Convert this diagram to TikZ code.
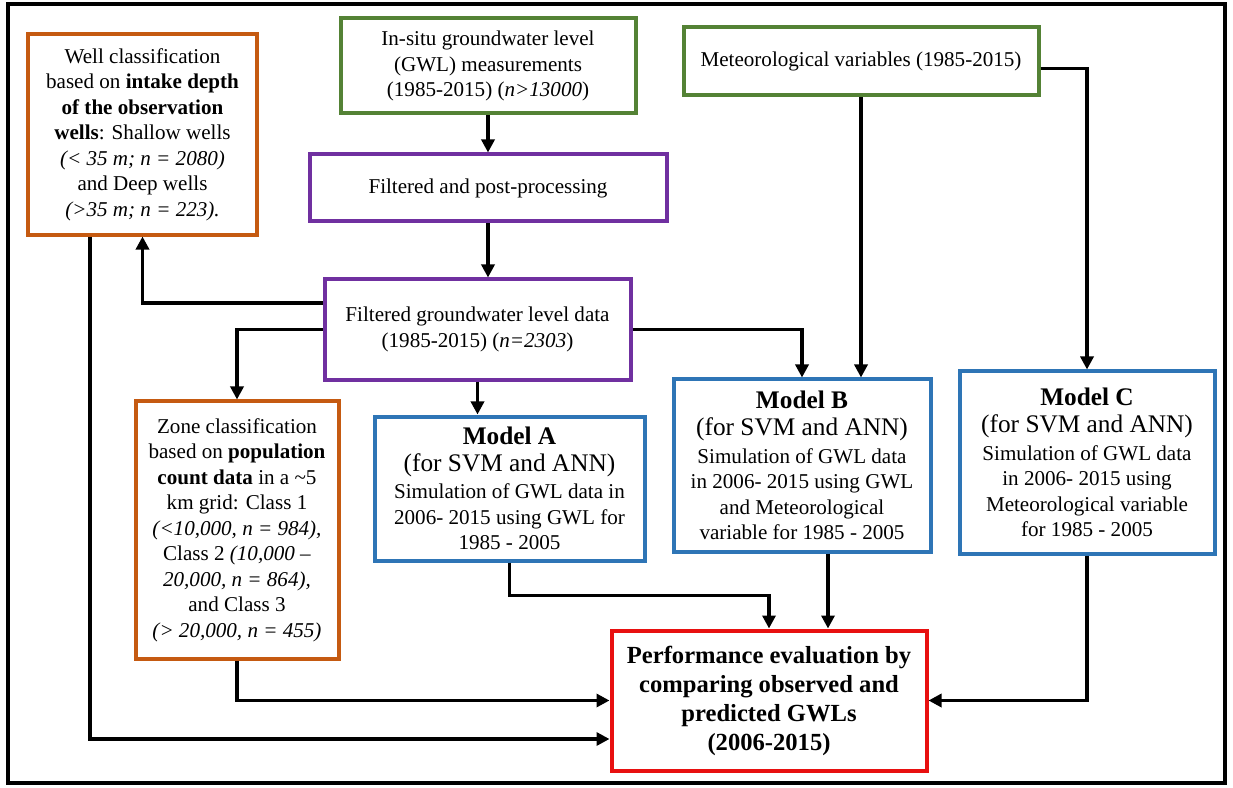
\documentclass[tikz,border=0pt,12pt]{standalone}
\usepackage{fontspec}
\setmainfont{Liberation Serif}
\usetikzlibrary{arrows.meta}
\definecolor{wellorange}{HTML}{C55A11}
\definecolor{srcgreen}{HTML}{548235}
\definecolor{procpurple}{HTML}{7030A0}
\definecolor{modelblue}{HTML}{2E75B6}
\definecolor{evalred}{HTML}{E81010}

\begin{document}
\begin{tikzpicture}[
  x=0.2mm, y=-0.2mm,
  >={Triangle[length=2.6mm, width=2.6mm]},
  fbox/.style={
    draw=#1, line width=0.8mm, fill=white, align=center,
    inner sep=2pt, font=\normalsize
  },
  arr/.style={->, line width=0.75mm, black},
]

% Frame
\useasboundingbox (0,0) rectangle (1233,788);
\draw[line width=0.8mm] (8,4) rectangle (1225,783);

% =============================================
% Inputs and pre-processing
% =============================================

\node[fbox=wellorange, minimum width=45.6mm, minimum height=40mm] (wellcls) at (142.5,134.5)
  {Well classification\\
   based on \textbf{intake depth}\\
   \textbf{of the observation}\\
   \textbf{wells}: Shallow wells\\
   \textit{(< 35 m; n = 2080)}\\
   and Deep wells\\
   \textit{(>35 m; n = 223).}};

\node[fbox=srcgreen, minimum width=59mm, minimum height=19mm] (insitu) at (488,66)
  {In-situ groundwater level\\
   (GWL) measurements\\
   (1985-2015) (\textit{n>13000})};

\node[fbox=procpurple, minimum width=71.4mm, minimum height=13.4mm] (postproc) at (488,188)
  {Filtered and post-processing};

\node[fbox=srcgreen, minimum width=71mm, minimum height=13.6mm] (meteo) at (861,61.5)
  {Meteorological variables (1985-2015)};

\node[fbox=procpurple, minimum width=61.2mm, minimum height=20mm] (filtgwl) at (477.5,329.5)
  {Filtered groundwater level data\\
   (1985-2015) (\textit{n=2303})};

\node[fbox=wellorange, minimum width=40.6mm, minimum height=51.4mm] (zonecls) at (237,530)
  {Zone classification\\
   based on \textbf{population}\\
   \textbf{count data} in a \textasciitilde 5\\
   km grid: Class 1\\
   \textit{(<10,000, n = 984),}\\
   Class 2 \textit{(10,000 --}\\
   \textit{20,000, n = 864),}\\
   and Class 3\\
   \textit{(> 20,000, n = 455)}};

% =============================================
% Models
% =============================================

\node[fbox=modelblue, minimum width=54mm, minimum height=28.8mm] (modelA) at (509.5,488.5)
  {{\large\bfseries Model A}\\[1pt]
   {\large (for SVM and ANN)}\\[1pt]
   Simulation of GWL data in\\
   2006- 2015 using GWL for\\
   1985 - 2005};

\node[fbox=modelblue, minimum width=51.4mm, minimum height=34.4mm] (modelB) at (802,465.5)
  {{\large\bfseries Model B}\\[1pt]
   {\large (for SVM and ANN)}\\[1pt]
   Simulation of GWL data\\
   in 2006- 2015 using GWL\\
   and Meteorological\\
   variable for 1985 - 2005};

\node[fbox=modelblue, minimum width=51mm, minimum height=36.4mm] (modelC) at (1087,462.5)
  {{\large\bfseries Model C}\\[1pt]
   {\large (for SVM and ANN)}\\[1pt]
   Simulation of GWL data\\
   in 2006- 2015 using\\
   Meteorological variable\\
   for 1985 - 2005};

% =============================================
% Evaluation
% =============================================

\node[fbox=evalred, minimum width=63mm, minimum height=28mm,
  font=\fontsize{14}{16.5}\selectfont\bfseries] (perf) at (769,700.5)
  {Performance evaluation by\\
   comparing observed and\\
   predicted GWLs\\
   (2006-2015)};

% =============================================
% Arrows
% =============================================
\draw[arr] (insitu) -- (postproc);
\draw[arr] (postproc.south) -- (postproc.south |- filtgwl.north);
\draw[arr] ([yshift=5.3mm]filtgwl.west) -| (wellcls.south);
\draw[arr] (filtgwl.west) -| (zonecls.north);
\draw[arr] (filtgwl.south) -- (filtgwl.south |- modelA.north);
\draw[arr] (filtgwl.east) -| (modelB.north);
\draw[arr] (meteo.south) -- (meteo.south |- modelB.north);
\draw[arr] ([yshift=-1.4mm]meteo.east) -| (modelC.north);

\draw[arr] (modelA.south) -- ++(0,33) -| (perf.north);
\draw[arr] ([xshift=5.2mm]modelB.south) -- ([xshift=5.2mm]modelB.south |- perf.north);
\draw[arr] (modelC.south) |- (perf.east);
\draw[arr] (zonecls.south) |- (perf.west);
\draw[arr] ([xshift=-10.5mm]wellcls.south) |- ([yshift=-7.7mm]perf.west);

\end{tikzpicture}
\end{document}
